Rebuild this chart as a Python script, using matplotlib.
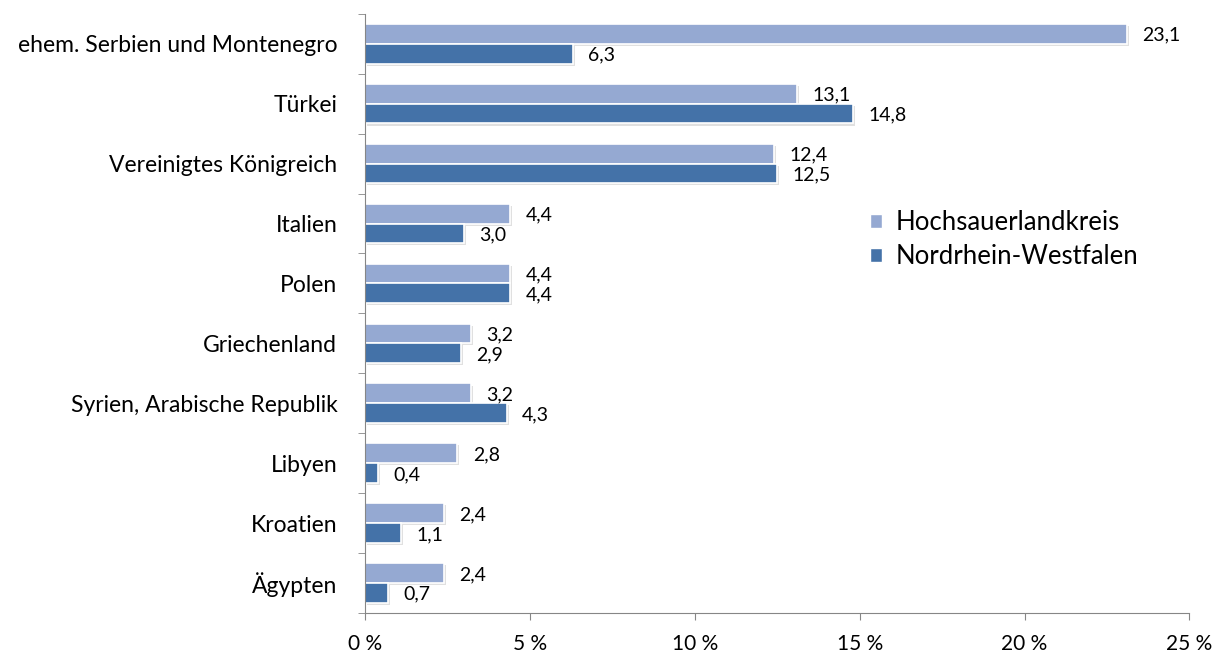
import matplotlib

matplotlib.use("Agg")
import matplotlib.pyplot as plt
import matplotlib.patheffects as pe
import numpy as np
from matplotlib.patches import Patch

plt.rcParams["font.family"] = ["Lato", "DejaVu Sans"]

countries = [
    "ehem. Serbien und Montenegro",
    "Türkei",
    "Vereinigtes Königreich",
    "Italien",
    "Polen",
    "Griechenland",
    "Syrien, Arabische Republik",
    "Libyen",
    "Kroatien",
    "Ägypten",
]
hsk = [23.1, 13.1, 12.4, 4.4, 4.4, 3.2, 3.2, 2.8, 2.4, 2.4]
nrw = [6.3, 14.8, 12.5, 3.0, 4.4, 2.9, 4.3, 0.4, 1.1, 0.7]
series_names = ["Hochsauerlandkreis", "Nordrhein-Westfalen"]
xticks = [0, 5, 10, 15, 20, 25]

LIGHT = "#95A9D2"
DARK = "#4472A8"
AXIS = "#868686"

fig = plt.figure(figsize=(12.25, 6.57), dpi=100)
ax = fig.add_axes([0.298, 0.067, 0.673, 0.912])

y = np.arange(len(countries))
h = 0.33
shadow = [pe.SimplePatchShadow(offset=(1.5, -1.5), shadow_rgbFace="#9a9a9a", alpha=0.3),
          pe.Normal()]

b1 = ax.barh(y - h / 2, hsk, height=h, color=LIGHT, edgecolor="white", linewidth=1.2)
b2 = ax.barh(y + h / 2, nrw, height=h, color=DARK, edgecolor="white", linewidth=1.2)
for bars in (b1, b2):
    for p in bars:
        p.set_path_effects(shadow)

fmt = lambda v: f"{v:.1f}".replace(".", ",")
for bars, vals in ((b1, hsk), (b2, nrw)):
    for p, v in zip(bars, vals):
        ax.annotate(fmt(v), (p.get_width(), p.get_y() + p.get_height() / 2),
                    xytext=(11, -1), textcoords="offset points",
                    ha="left", va="center", fontsize=14)

ax.set_xlim(0, 25)
ax.set_ylim(len(countries) - 0.5, -0.5)
ax.set_xticks(xticks)
ax.set_xticklabels([f"{t} %" for t in xticks], fontsize=15)
ax.set_yticks(y)
ax.set_yticklabels(countries, fontsize=16.5)
ax.set_yticks(np.arange(-0.5, len(countries)), minor=True)
ax.tick_params(axis="y", which="major", length=0, pad=20)
ax.tick_params(axis="y", which="minor", length=5, color=AXIS, direction="out")
ax.tick_params(axis="x", length=5, color=AXIS, direction="out", pad=10)

for s in ("top", "right"):
    ax.spines[s].set_visible(False)
for s in ("left", "bottom"):
    ax.spines[s].set_color(AXIS)

handles = [Patch(facecolor=LIGHT, edgecolor="white", label=series_names[0]),
           Patch(facecolor=DARK, edgecolor="white", label=series_names[1])]
ax.legend(handles=handles, loc="center left", bbox_to_anchor=(0.612, 0.623),
          frameon=False, fontsize=18.5, handlelength=0.5, handleheight=0.5,
          handletextpad=0.5, labelspacing=0.35, borderpad=0, borderaxespad=0)

fig.savefig("out.png", dpi=100)
